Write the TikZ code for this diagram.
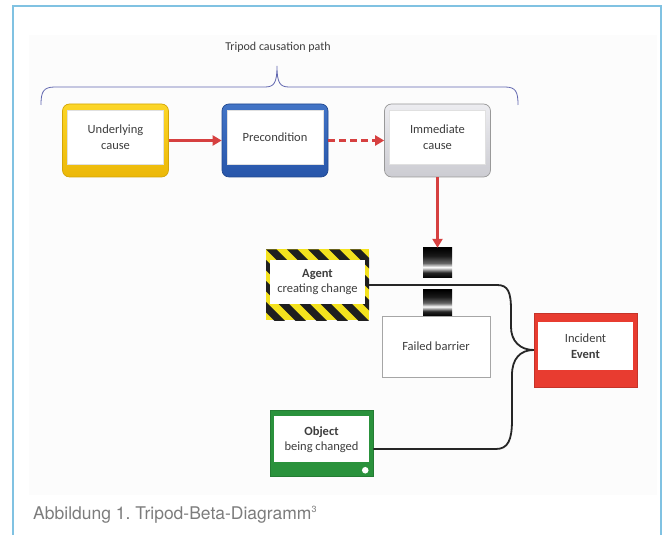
\documentclass[tikz,border=0pt]{standalone}
\usepackage{fontspec}
\setmainfont{Carlito}
\newfontfamily\capfont{TeX Gyre Heros}
\usetikzlibrary{arrows.meta,calc}
\frenchspacing

\definecolor{framebl}{RGB}{128,194,226}
\definecolor{bgtone}{RGB}{252,252,252}
\definecolor{bracecol}{RGB}{98,104,176}
\definecolor{txt}{RGB}{62,62,62}
\definecolor{capgray}{RGB}{124,124,124}
\definecolor{redarr}{RGB}{214,64,64}
\definecolor{ylwA}{RGB}{252,214,40}
\definecolor{ylwB}{RGB}{236,184,8}
\definecolor{bluA}{RGB}{66,116,198}
\definecolor{bluB}{RGB}{40,86,170}
\definecolor{gryA}{RGB}{236,236,240}
\definecolor{gryB}{RGB}{204,204,210}
\definecolor{hzY}{RGB}{244,226,30}
\definecolor{redA}{RGB}{232,60,48}
\definecolor{grnA}{RGB}{42,146,60}

% black - white - black band used for the barrier blocks
\pgfdeclareverticalshading{barshade}{100bp}{%
  color(0bp)=(black); color(25bp)=(black); color(34bp)=(black!85);
  color(43bp)=(white); color(50bp)=(black!60); color(62bp)=(black!90);
  color(75bp)=(black); color(100bp)=(black)}

\begin{document}
\begin{tikzpicture}[x=1pt,y=1pt,
  boxtext/.style={font=\fontsize{12.5}{15.5}\selectfont, text=txt, align=center},
  tframe/.style n args={3}{rectangle, rounded corners=7, minimum width=106,
    minimum height=73, inner sep=0, top color=#1, bottom color=#2,
    draw=#3, line width=0.7},
  tinner/.style={boxtext, rectangle, fill=white, draw=black!12, line width=0.4,
    minimum width=96, minimum height=54, inner sep=0},
  redarrow/.style={draw=redarr, line width=2.6,
    -{Triangle[length=9,width=10]}},
  hazard/.style={rectangle, minimum width=103, minimum height=71, inner sep=0,
    fill=hzY, path picture={
      \foreach \k in {-5,...,7}{
        \fill[black!88] ([xshift=\k*21pt]path picture bounding box.north west)
          -- ++(10.5,0) -- ++(75,-75) -- ++(-10.5,0) -- cycle;}}},
  barrier/.style={rectangle, minimum width=29, inner sep=0, shading=barshade},
  blackline/.style={draw=black!85, line width=1.8, line join=round}
]
\useasboundingbox (0,0) rectangle (664,535);

% page frame and figure area
\fill[bgtone] (29,40) rectangle (657,500);
\draw[framebl, line width=2] (13,0) -- (13,529) -- (661,529) -- (661,0);

% causation path heading and brace
\node[font=\fontsize{12}{14}\selectfont, text=txt] (title) at (278,487.5)
  {Tripod causation path};
\draw[bracecol, line width=0.8]
  (41,430) .. controls (41,443) and (43,448) .. (55,448) -- (265,448)
  .. controls (274,448) and (277,452) .. (277,469)
  .. controls (277,452) and (280,448) .. (289,448) -- (505,448)
  .. controls (516,448) and (518,443) .. (518,430);

% the three tripod boxes
\node[tframe={ylwA}{ylwB}{ylwB!90!black}] (ucf) at (115.5,394.5) {};
\node[tinner] (uc) at (115.5,398) {Underlying\\cause};
\node[tframe={bluA}{bluB}{bluB!85!black}] (pcf) at (275,394.5) {};
\node[tinner] (pc) at (275,398) {Precondition};
\node[tframe={gryA}{gryB}{black!40}] (icf) at (437.5,394.5) {};
\node[tinner] (ic) at (437.5,398) {Immediate\\cause};

\draw[redarrow] (ucf) -- (pcf);
\draw[redarrow, dash pattern=on 7pt off 4pt] (pcf) -- (icf);

% barrier blocks and failed barrier
\node[barrier, minimum height=30] (b1) at (437.5,272) {};
\node[barrier, minimum height=26] (b2) at (437.5,232) {};
\node[boxtext, rectangle, draw=black!35, fill=white, line width=0.6,
  minimum width=108, minimum height=61, inner sep=0] (fb) at (436,188.5)
  {Failed barrier};
\draw[redarrow] (icf) -- (b1);

% agent
\node[hazard] (agf) at (317.5,250) {};
\node[boxtext, rectangle, fill=white, minimum width=95, minimum height=44,
  inner sep=0] (ag) at (317.5,253) {\textbf{Agent}\\creating change};

% incident event
\node[rectangle, fill=redA, draw=redA!85!black, line width=0.5,
  minimum width=103, minimum height=74, inner sep=0] (ief) at (585.5,185) {};
\node[boxtext, rectangle, fill=white, minimum width=95, minimum height=48,
  inner sep=0] (ie) at (585.5,189) {Incident\\\textbf{Event}};

% object
\node[rectangle, fill=grnA, draw=grnA!85!black, line width=0.5,
  minimum width=103, minimum height=66, inner sep=0] (obf) at (321.5,92) {};
\node[boxtext, rectangle, fill=white, minimum width=95, minimum height=46,
  inner sep=0] (ob) at (321.5,95.5) {\textbf{Object}\\being changed};
\fill[white] ($(obf.south east)+(-8,6)$) circle (3.3);

% agent and object meeting in the incident
\draw[blackline] (agf.east) -- (497,250)
  .. controls (508,250) and (511,243) .. (511,225) -- (511,208)
  .. controls (511,194) and (520,185) .. (ief.west);
\draw[blackline] ([yshift=-6]obf.east) -- (496,86)
  .. controls (508,86) and (512,95) .. (512,115) -- (512,160)
  .. controls (512,176) and (520,185) .. (ief.west);

% caption
\node[anchor=base west, inner sep=0, text=capgray,
  font=\capfont\fontsize{17.5}{20}\selectfont] (cap) at (33,15)
  {Abbildung 1. Tripod-Beta-Diagramm\raisebox{7pt}{\fontsize{9}{9}\selectfont 3}};
\end{tikzpicture}
\end{document}
